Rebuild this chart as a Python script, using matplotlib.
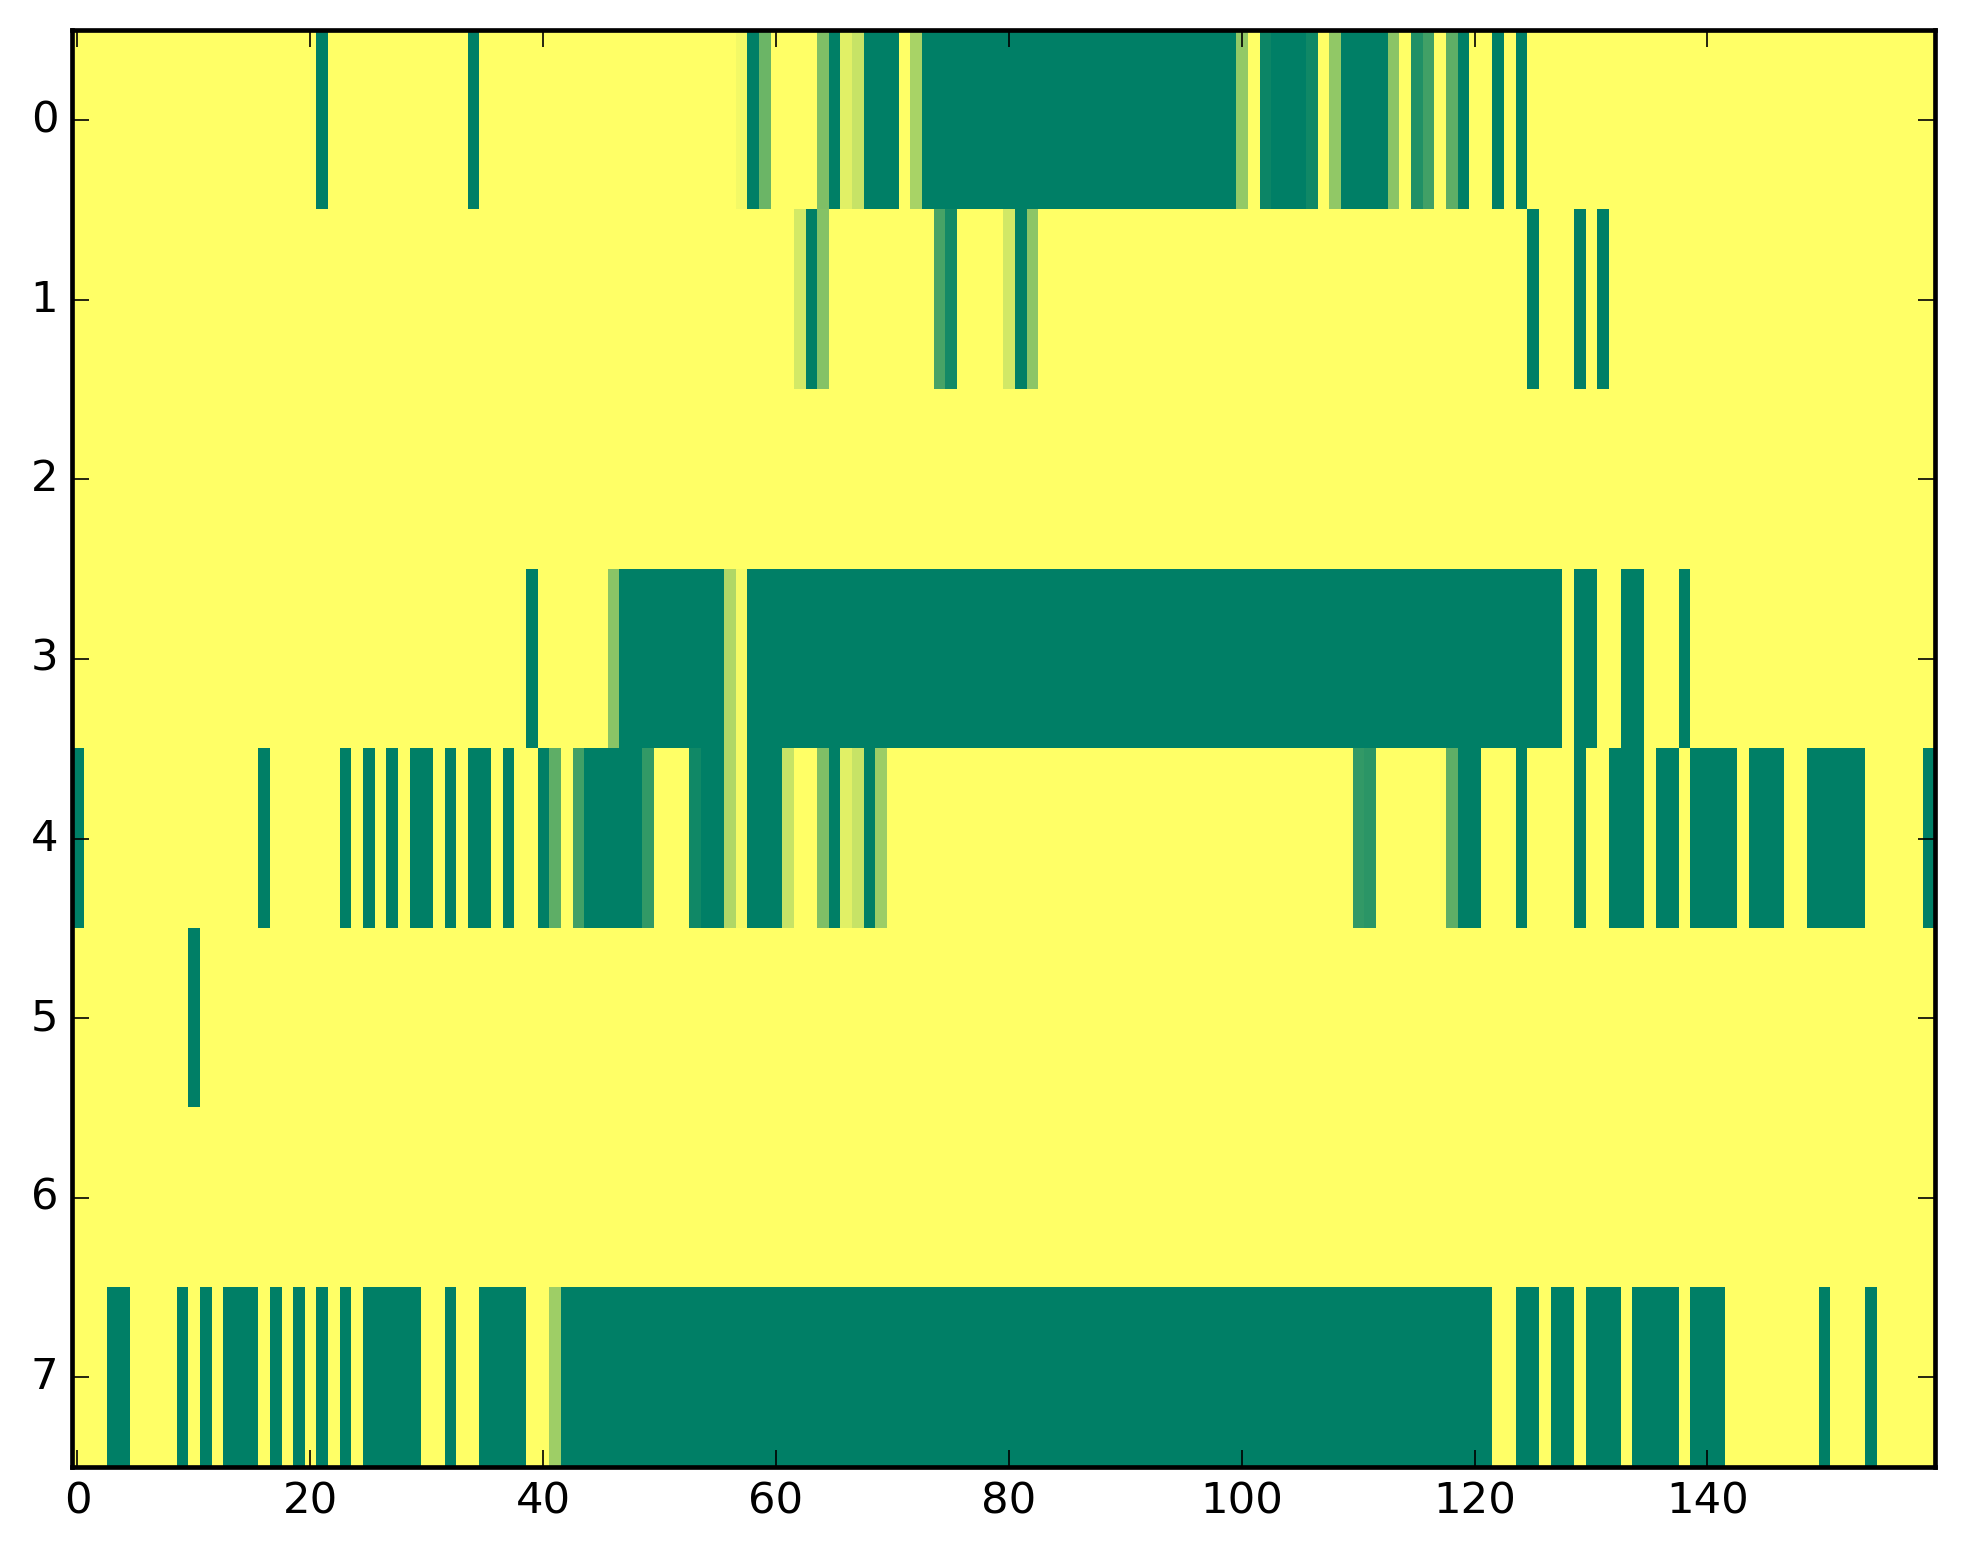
import numpy as np
import matplotlib
matplotlib.use("Agg")
import matplotlib.pyplot as plt

plt.style.use("classic")

n_rows = 8
n_cols = 160

# cells that are fully on (value 1), as inclusive runs (start, end) per row
row0_on = [(21, 21), (34, 34), (58, 58), (65, 65), (68, 70), (73, 99), (103, 105),
           (109, 112), (119, 119), (122, 122), (124, 124)]
row1_on = [(63, 63), (81, 81), (125, 125), (129, 129), (131, 131)]
row2_on = []
row3_on = [(39, 39), (47, 55), (58, 127), (129, 130), (133, 134), (138, 138)]
row4_on = [(0, 0), (16, 16), (23, 23), (25, 25), (27, 27), (29, 30), (32, 32),
           (34, 35), (37, 37), (40, 40), (44, 48), (54, 55), (58, 60), (65, 65),
           (68, 68), (119, 120), (124, 124), (129, 129), (132, 134), (136, 137),
           (139, 142), (144, 146), (149, 153), (159, 159)]
row5_on = [(10, 10)]
row6_on = []
row7_on = [(3, 4), (9, 9), (11, 11), (13, 15), (17, 17), (19, 19), (21, 21),
           (23, 23), (25, 29), (32, 32), (35, 38), (42, 121), (124, 125),
           (127, 128), (130, 132), (134, 137), (139, 141), (150, 150), (154, 154)]

# cells with an in-between value {column: value}
row0_part = {57: 0.05, 59: 0.58, 64: 0.5, 66: 0.12, 67: 0.22, 72: 0.34, 100: 0.42,
             102: 0.95, 106: 0.93, 108: 0.43, 113: 0.46, 115: 0.87, 116: 0.74, 118: 0.63}
row1_part = {62: 0.17, 64: 0.48, 74: 0.72, 75: 0.92, 80: 0.18, 82: 0.45}
row2_part = {}
row3_part = {46: 0.46, 56: 0.31, 57: 0.04}
row4_part = {41: 0.63, 43: 0.74, 49: 0.8, 53: 0.93, 56: 0.31, 57: 0.04, 61: 0.22,
             64: 0.5, 66: 0.12, 67: 0.22, 69: 0.39, 110: 0.8, 111: 0.83, 118: 0.63}
row5_part = {}
row6_part = {}
row7_part = {41: 0.38}

rows_on = [row0_on, row1_on, row2_on, row3_on, row4_on, row5_on, row6_on, row7_on]
rows_part = [row0_part, row1_part, row2_part, row3_part, row4_part, row5_part,
             row6_part, row7_part]

data = np.zeros((n_rows, n_cols))
for r in range(n_rows):
    for a, b in rows_on[r]:
        data[r, a:b + 1] = 1.0
    for c, v in rows_part[r].items():
        data[r, c] = v

plt.rcParams["axes.linewidth"] = 1.4

fig = plt.figure(figsize=(1963 / 240, 1564 / 240), dpi=240, facecolor="white")
ax = fig.add_axes([0.0365, 0.062, 0.949, 0.9185])
ax.imshow(data, cmap="summer_r", aspect="auto", interpolation="nearest")
ax.set_yticks(range(n_rows))
ax.set_xticks(range(0, 141, 20))
ax.tick_params(labelsize=13, length=5)

fig.savefig("out.png", dpi=240, facecolor="white")
